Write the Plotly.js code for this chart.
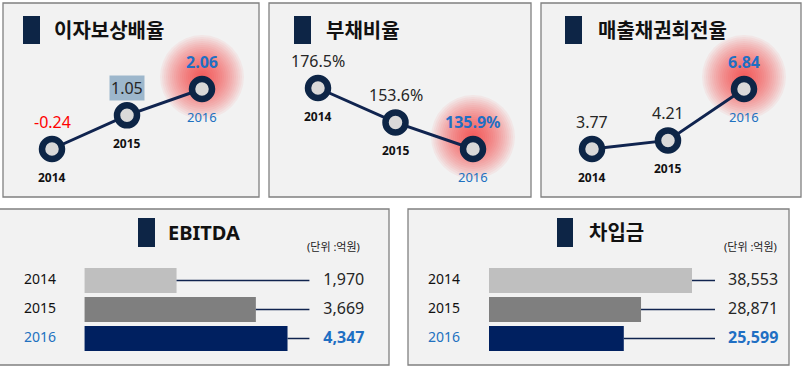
<!DOCTYPE html>
<html><head><meta charset="utf-8">
<script src="https://cdn.plot.ly/plotly-3.0.1.min.js"></script>
<style>html,body{margin:0;padding:0;background:#fff}#chart{width:804px;height:368px}</style>
</head><body><div id="chart"></div>
<script>
// ---- data ----
const years = ['2014', '2015', '2016'];
const yearNums = [2014, 2015, 2016];
const interestCoverage = [-0.24, 1.05, 2.06];
const debtRatio = [176.5, 153.6, 135.9];
const receivableTurnover = [3.77, 4.21, 6.84];
const ebitda = [1970, 3669, 4347];
const borrowings = [38553, 28871, 25599];
const titlesTop = ['이자보상배율', '부채비율', '매출채권회전율'];
const titlesBottom = ['EBITDA', '차입금'];
const unitText = '(단위 :억원)';

// ---- layout helpers ----
const W = 804, H = 368;
const px = x => x / W, py = y => 1 - y / H;
function axisFrom(p0, p1, va, pa, vb, pb, isY) {
  const k = (vb - va) / (pb - pa);
  const v0 = va + (p0 - pa) * k, v1 = va + (p1 - pa) * k;
  if (!isY) return { domain: [px(p0), px(p1)], range: [v0, v1] };
  return { domain: [py(p1), py(p0)], range: [v1, v0] };
}
function pixToVal(p, va, pa, vb, pb) { return va + (p - pa) * (vb - va) / (pb - pa); }
const hidden = { showgrid: false, zeroline: false, showticklabels: false, showline: false, ticks: '', fixedrange: true };

const FONT = "'Noto Sans', 'Noto Sans CJK KR', sans-serif";
const NAVY = '#0d2546', LINE = '#10244f', BLUE = '#1f6fc3', YBLUE = '#2171c0', DARK = '#262626';

const traces = [], shapes = [], annotations = [];
const layout = {
  width: W, height: H, margin: { l: 0, r: 0, t: 0, b: 0 },
  paper_bgcolor: '#ffffff', plot_bgcolor: 'rgba(0,0,0,0)', showlegend: false,
  font: { family: FONT }
};

function panelBox(b) {
  shapes.push({ type: 'rect', xref: 'paper', yref: 'paper', layer: 'below',
    x0: px(b[0]), x1: px(b[2]), y0: py(b[3]), y1: py(b[1]),
    fillcolor: '#f2f2f2', line: { color: '#808080', width: 1.3 } });
}
function titleBlock(sq, tx, ty, text) {
  shapes.push({ type: 'rect', xref: 'paper', yref: 'paper', layer: 'above',
    x0: px(sq[0]), x1: px(sq[2]), y0: py(sq[3]), y1: py(sq[1]),
    fillcolor: NAVY, line: { width: 0 } });
  annotations.push({ xref: 'paper', yref: 'paper', x: px(tx), y: py(ty), xanchor: 'left', yanchor: 'middle',
    showarrow: false, text: '<b>' + text + '</b>', font: { family: FONT, size: 20, color: '#111' } });
}

// ---- top panels ----
const topPanels = [
  { vals: interestCoverage, fmt: v => v.toFixed(2), box: [3, 3, 259, 197], xp: [52, 202], yp: [149, 89],
    sq: [23, 16, 40, 44], tx: 52, colors: ['#ff0000', DARK, BLUE], highlight: 1 },
  { vals: debtRatio, fmt: v => v.toFixed(1) + '%', box: [269, 3, 531, 197], xp: [318, 473], yp: [88, 149],
    sq: [294, 16, 311, 44], tx: 324, colors: [DARK, DARK, BLUE], highlight: -1 },
  { vals: receivableTurnover, fmt: v => v.toFixed(2), box: [541, 3, 801, 197], xp: [592, 744], yp: [149, 89],
    sq: [565, 16, 582, 44], tx: 596, colors: [DARK, DARK, BLUE], highlight: -1 }
];

topPanels.forEach((p, i) => {
  const n = i + 1, xn = 'x' + (n === 1 ? '' : n), yn = 'y' + (n === 1 ? '' : n);
  const xk = 'xaxis' + (n === 1 ? '' : n), yk = 'yaxis' + (n === 1 ? '' : n);
  const last = p.vals.length - 1;
  layout[xk] = Object.assign({}, hidden, axisFrom(p.box[0], p.box[2], yearNums[0], p.xp[0], yearNums[last], p.xp[1], false), { anchor: yn });
  layout[yk] = Object.assign({}, hidden, axisFrom(p.box[1], p.box[3], p.vals[0], p.yp[0], p.vals[last], p.yp[1], true), { anchor: xn });
  panelBox(p.box);
  titleBlock(p.sq, p.tx, 31, titlesTop[i]);
  // soft glow behind latest point
  for (let r = 42; r >= 4; r -= 2) {
    shapes.push({ type: 'circle', xref: xn, yref: yn, layer: 'below', xsizemode: 'pixel', ysizemode: 'pixel',
      xanchor: yearNums[last], yanchor: p.vals[last], x0: -r, x1: r, y0: 12 - r, y1: 12 + r,
      fillcolor: 'rgba(255,40,40,0.055)', line: { width: 0 } });
  }
  traces.push({ type: 'scatter', mode: 'lines+markers', x: yearNums, y: p.vals, xaxis: xn, yaxis: yn,
    cliponaxis: false, hoverinfo: 'skip',
    line: { color: LINE, width: 3 },
    marker: { size: 20, color: '#d9d9d9', line: { color: NAVY, width: 6.5 } } });
  p.vals.forEach((v, j) => {
    const isLast = j === last;
    annotations.push({ xref: xn, yref: yn, x: yearNums[j], y: v, yshift: 27, showarrow: false,
      text: isLast ? '<b>' + p.fmt(v) + '</b>' : p.fmt(v),
      bgcolor: j === p.highlight ? '#9db7cc' : 'rgba(0,0,0,0)', borderpad: 1,
      font: { family: FONT, size: 16, color: p.colors[j] } });
    annotations.push({ xref: xn, yref: yn, x: yearNums[j], y: v, yshift: -28, showarrow: false,
      text: isLast ? years[j] : '<b>' + years[j] + '</b>',
      font: { family: FONT, size: isLast ? 13 : 12, color: isLast ? YBLUE : '#111' } });
  });
});

// ---- bottom panels ----
const barColors = ['#bfbfbf', '#7f7f7f', '#002060'];
const bottomPanels = [
  { vals: ebitda, box: [-2, 209, 389, 365], x0p: 83, maxp: 287, lineEnd: 309, yearX: 22, valX: 323,
    sq: [138, 218, 155, 247], tx: 166, unitX: 305 },
  { vals: borrowings, box: [408, 209, 789, 365], x0p: 489, maxp: 692, lineEnd: 715, yearX: 428, valX: 728,
    sq: [557, 218, 573, 247], tx: 587, unitX: 722 }
];

bottomPanels.forEach((p, i) => {
  const n = i + 4, xn = 'x' + n, yn = 'y' + n;
  const maxV = Math.max(...p.vals);
  layout['xaxis' + n] = Object.assign({}, hidden, axisFrom(p.box[0], p.box[2], 0, p.x0p, maxV, p.maxp, false), { anchor: yn });
  layout['yaxis' + n] = Object.assign({}, hidden, axisFrom(p.box[1], p.box[3], 0, 280.5, 2, 338.5, true),
    { anchor: xn, type: 'category', categoryorder: 'array', categoryarray: years });
  panelBox(p.box);
  titleBlock(p.sq, p.tx, 232, titlesBottom[i]);
  annotations.push({ xref: 'paper', yref: 'paper', x: px(p.unitX), y: py(246), xanchor: 'left', yanchor: 'middle',
    showarrow: false, text: unitText, font: { family: FONT, size: 11, color: '#222' } });
  const endV = pixToVal(p.lineEnd, 0, p.x0p, maxV, p.maxp);
  const lx = [], ly = [];
  p.vals.forEach((v, j) => { lx.push(v, endV, null); ly.push(years[j], years[j], null); });
  traces.push({ type: 'scatter', mode: 'lines', x: lx, y: ly, xaxis: xn, yaxis: yn, hoverinfo: 'skip',
    line: { color: LINE, width: 1.5 }, cliponaxis: false });
  traces.push({ type: 'bar', orientation: 'h', x: p.vals, y: years, xaxis: xn, yaxis: yn, width: 0.86,
    marker: { color: barColors, line: { width: 0 } }, hoverinfo: 'skip' });
  // labels: year on the left, value after the connector line (y by category index)
  traces.push({ type: 'scatter', mode: 'text', xaxis: xn, yaxis: yn, hoverinfo: 'skip', cliponaxis: false,
    x: years.map(() => pixToVal(p.yearX, 0, p.x0p, maxV, p.maxp)), y: years,
    text: years, textposition: 'middle right',
    textfont: { family: FONT, size: 14, color: years.map((y, j) => j === years.length - 1 ? YBLUE : '#111') } });
  traces.push({ type: 'scatter', mode: 'text', xaxis: xn, yaxis: yn, hoverinfo: 'skip', cliponaxis: false,
    x: years.map(() => pixToVal(p.valX, 0, p.x0p, maxV, p.maxp)), y: years,
    text: p.vals.map((v, j) => j === p.vals.length - 1 ? '<b>' + v.toLocaleString('en-US') + '</b>' : v.toLocaleString('en-US')),
    textposition: 'middle right',
    textfont: { family: FONT, size: 16, color: p.vals.map((v, j) => j === p.vals.length - 1 ? BLUE : DARK) } });
});

layout.shapes = shapes;
layout.annotations = annotations;
Plotly.newPlot('chart', traces, layout, { staticPlot: true, displayModeBar: false });
</script>
</body></html>
